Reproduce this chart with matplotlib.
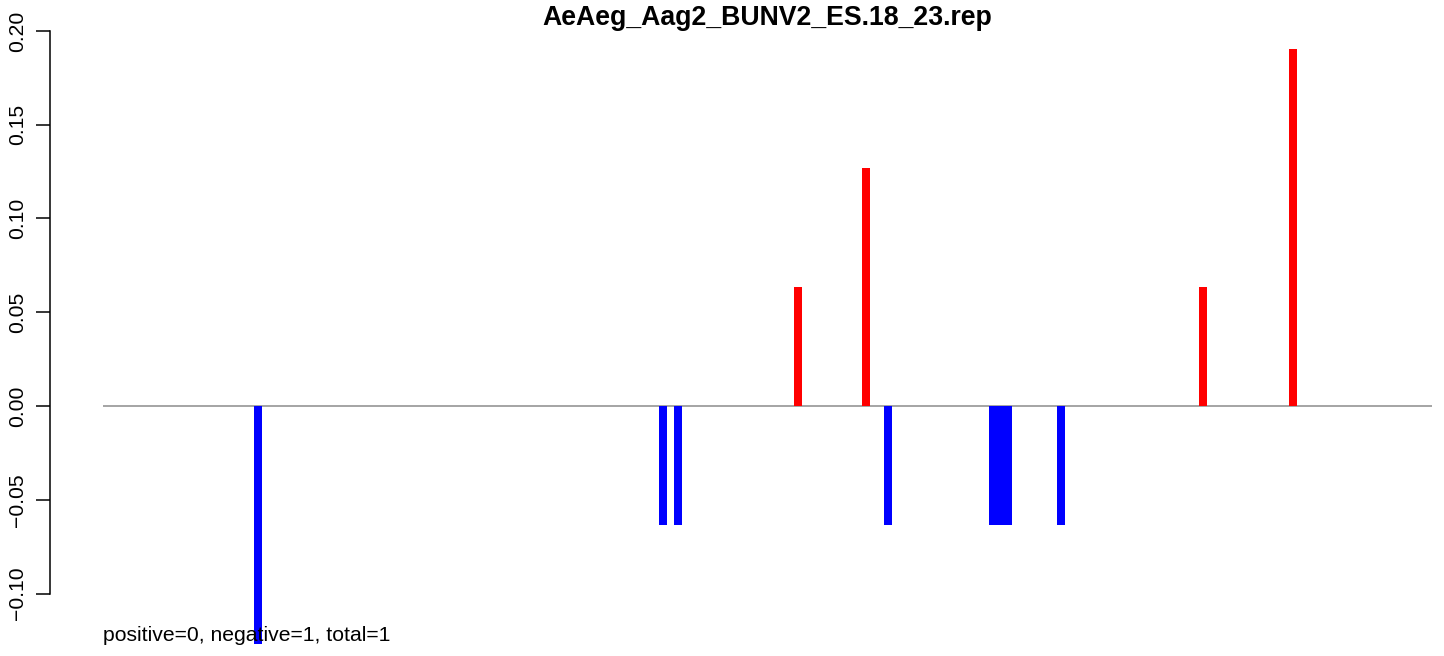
import matplotlib
matplotlib.use("Agg")
import matplotlib.pyplot as plt

# read coverage-style profile: positions along the sequence and signed values
title = "AeAeg_Aag2_BUNV2_ES.18_23.rep"
note = "positive=0, negative=1, total=1"
positions = [155, 560, 575, 695, 763, 785, 890, 897, 905, 958, 1100, 1190]
values = [-0.127, -0.0635, -0.0635, 0.0635, 0.127, -0.0635,
          -0.0635, -0.0635, -0.0635, -0.0635, 0.0635, 0.1905]
x_range = (0, 1329)
yticks = [-0.10, -0.05, 0.00, 0.05, 0.10, 0.15, 0.20]

plt.rcParams["font.family"] = ["Liberation Sans", "DejaVu Sans"]

W, H = 1444, 656
fig = plt.figure(figsize=(W / 100, H / 100), dpi=100)

# plot region in pixels
left_px, right_px, top_px, bot_px = 103, 1432, 20, 650
ax = fig.add_axes([left_px / W, 1 - bot_px / H,
                   (right_px - left_px) / W, (bot_px - top_px) / H])
zero_px, px_per_unit = 406, 1875.0
ax.set_ylim((zero_px - bot_px) / px_per_unit, (zero_px - top_px) / px_per_unit)
ax.set_xlim(*x_range)

colors = ["red" if v > 0 else "blue" for v in values]
ax.bar(positions, values, width=8, color=colors, linewidth=0, zorder=2)
ax.axhline(0, color="#8c8c8c", lw=1.1, zorder=1)

for s in ("top", "right", "bottom"):
    ax.spines[s].set_visible(False)
ax.spines["left"].set_position(("axes", -(left_px - 50.5) / (right_px - left_px)))
ax.spines["left"].set_bounds(yticks[0], yticks[-1])
ax.spines["left"].set_linewidth(1.1)
ax.set_xticks([])
ax.set_yticks(yticks)
ax.set_yticklabels([f"{t:.2f}".replace("-", "\u2212") for t in yticks],
                   rotation=90, va="center", fontsize=15.2)
ax.tick_params(axis="y", length=10, width=1.1, pad=7)

fig.text((left_px + right_px) / 2 / W, 1 - 25 / H, title, ha="center",
         va="baseline", fontsize=19.2, fontweight="bold")
fig.text(left_px / W, 1 - 641 / H, note, ha="left", va="baseline", fontsize=15.2)

fig.savefig("out.png", dpi=100)
